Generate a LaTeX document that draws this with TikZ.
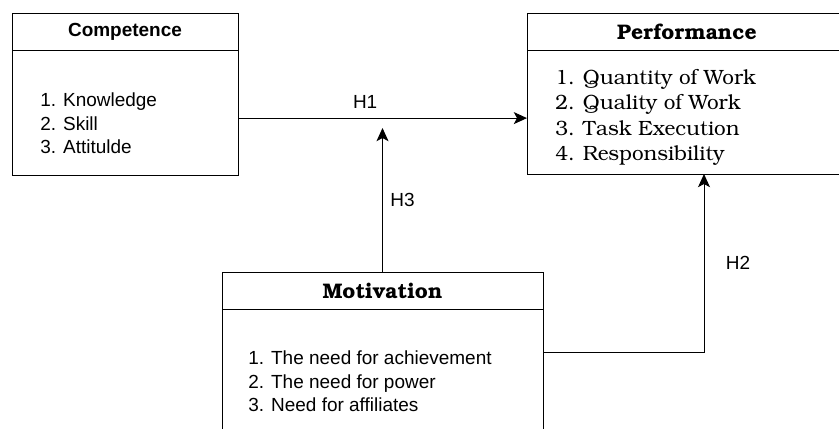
\documentclass[tikz,border=0pt]{standalone}
\usepackage[T1]{fontenc}
\usepackage{fontspec}
\setmainfont{Liberation Sans}
\usetikzlibrary{positioning,calc,arrows.meta}
\newcommand{\bkfont}{\fontencoding{T1}\fontfamily{pbk}\selectfont}

\tikzset{
    head/.style={draw, line width=0.7pt, outer sep=0pt, inner sep=0pt, minimum height=0.925cm, font=\fontsize{13.5}{16}\selectfont\bfseries},
    bkhead/.style={head, font={\fontsize{15}{18}\bkfont\bfseries}},
    body/.style={draw, line width=0.7pt, outer sep=0pt, inner sep=0pt},
    items/.style={align=left, inner sep=0pt, anchor=west, font=\fontsize{13.5}{16.7}\selectfont},
    bkitems/.style={items, font={\fontsize{14.7}{17.9}\bkfont}},
    arr/.style={line width=0.7pt, -{Stealth[length=0.33cm, width=0.3cm, inset=0.08cm]}},
    hlabel/.style={font=\fontsize{13.5}{16}\selectfont}
}

\begin{document}
\begin{tikzpicture}
    \useasboundingbox (0,0) rectangle (20.975,-10.7);
    \clip (0,0) rectangle (20.975,-10.7);

    % variable boxes
    \node[head, minimum width=5.65cm] (comphead) at (3.125,-0.7875) {Competence};
    \node[body, minimum width=5.65cm, minimum height=3.125cm, below=0pt of comphead] (compbody) {};
    \node[items] (complist) at ([xshift=0.7cm, yshift=-0.275cm]compbody.west) {1. Knowledge\\2. Skill\\3. Attitulde};

    \node[bkhead, minimum width=8cm] (perfhead) at (17.175,-0.7875) {Performance};
    \node[body, minimum width=8cm, minimum height=3.1cm, below=0pt of perfhead] (perfbody) {};
    \node[bkitems] (perflist) at ([xshift=0.7cm, yshift=-0.13cm]perfbody.west) {1. Quantity of Work\\2. Quality of Work\\3. Task Execution\\4. Responsibility};

    \node[bkhead, minimum width=8.025cm] (motivhead) at (9.5625,-7.2625) {Motivation};
    \node[body, minimum width=8.025cm, minimum height=3.3cm, below=0pt of motivhead] (motivbody) {};
    \node[items] (motivlist) at ([xshift=0.65cm, yshift=-1.8125cm]motivhead.south west) {1. The need for achievement\\2. The need for power\\3. Need for affiliates};

    % hypotheses
    \coordinate (h1start) at ([yshift=-0.14cm]compbody.east);
    \draw[arr] (h1start) -- (h1start -| perfbody.west) node[hlabel, pos=0.44, yshift=0.4cm] {H1};
    \draw[arr] (motivhead.north) -- ++(0,3.6) node[hlabel, midway, xshift=0.5cm] {H3};
    \coordinate (h2start) at ([yshift=-1.075cm]motivhead.south east);
    \draw[arr] (h2start) -| ([xshift=0.425cm]perfbody.south) node[hlabel, pos=0.75, xshift=0.85cm] {H2};
\end{tikzpicture}
\end{document}
